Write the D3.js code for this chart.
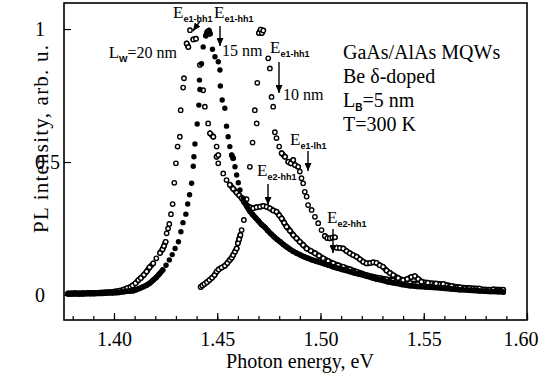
<!DOCTYPE html>
<html>
<head>
<meta charset="utf-8">
<script src="https://cdn.jsdelivr.net/npm/d3@7"></script>
<style>
  body { margin: 0; background: #fff; }
  text { font-family: "Liberation Serif", "Times New Roman", serif; fill: #000; }
</style>
</head>
<body>
<div id="chart"></div>
<script>
// PL spectra: [photon energy (eV), intensity (arb. u.)]
const w20 = [
  [1.3778,0.006],[1.3795,0.006],[1.3812,0.007],[1.3830,0.006],[1.3848,0.007],[1.3866,0.007],[1.3884,0.008],
  [1.3902,0.007],[1.3920,0.008],[1.3938,0.009],[1.3956,0.010],[1.3974,0.011],[1.3992,0.012],[1.4010,0.014],
  [1.4028,0.016],[1.4046,0.020],[1.4064,0.026],[1.4080,0.030],[1.4090,0.036],[1.4104,0.044],[1.4118,0.056],
  [1.4130,0.064],[1.4145,0.076],[1.4158,0.088],[1.4172,0.104],[1.4190,0.119],[1.4205,0.138],[1.4223,0.158],
  [1.4235,0.172],[1.4242,0.184],[1.4250,0.200],[1.4255,0.232],[1.4262,0.250],[1.4268,0.267],[1.4276,0.304],
  [1.4284,0.342],[1.4292,0.422],[1.4300,0.495],[1.4308,0.558],[1.4319,0.595],[1.4323,0.695],[1.4335,0.780],
  [1.4339,0.815],[1.4352,0.946],[1.4360,0.933],[1.4368,0.996],[1.4384,0.961],[1.4397,0.964],[1.4416,0.865],
  [1.4432,0.770],[1.4440,0.708],[1.4456,0.645],[1.4465,0.608],[1.4481,0.595],[1.4497,0.558],[1.4497,0.520],
  [1.4505,0.526],[1.4505,0.495],[1.4529,0.457],[1.4545,0.432],[1.4561,0.415],[1.4577,0.400],[1.4594,0.385],
  [1.4606,0.375],[1.4618,0.365],[1.4630,0.350],[1.4642,0.338],[1.4658,0.330],[1.4674,0.326],[1.4690,0.330],
  [1.4707,0.332],[1.4723,0.335],[1.4739,0.332],[1.4755,0.326],[1.4771,0.318],[1.4787,0.313],[1.4800,0.300],
  [1.4812,0.288],[1.4824,0.272],[1.4836,0.257],[1.4852,0.242],[1.4868,0.226],[1.4884,0.213],[1.4900,0.200],
  [1.4916,0.188],[1.4933,0.175],[1.4953,0.166],[1.4973,0.157],[1.4993,0.148],[1.5013,0.138],[1.5037,0.128],
  [1.5061,0.119],[1.5085,0.112],[1.5110,0.106],[1.5142,0.097],[1.5175,0.088],[1.5200,0.081],[1.5223,0.075],
  [1.5255,0.069],[1.5287,0.064],[1.5320,0.059],[1.5350,0.055],[1.5390,0.050],[1.5433,0.045],[1.5470,0.041],
  [1.5510,0.038],[1.5550,0.036],[1.5592,0.034],[1.5634,0.030],[1.5674,0.028],[1.5720,0.025],[1.5770,0.022],
  [1.5820,0.020],[1.5860,0.018],[1.5885,0.017]
];

const w15 = [
  [1.3778,0.004],[1.3795,0.004],[1.3812,0.005],[1.3830,0.004],[1.3848,0.004],[1.3866,0.005],[1.3884,0.005],
  [1.3902,0.005],[1.3920,0.006],[1.3938,0.006],[1.3956,0.007],[1.3974,0.008],[1.3992,0.008],[1.4010,0.009],
  [1.4028,0.010],[1.4046,0.012],[1.4064,0.014],[1.4080,0.015],[1.4093,0.016],[1.4108,0.020],[1.4124,0.025],
  [1.4142,0.031],[1.4158,0.037],[1.4174,0.045],[1.4190,0.056],[1.4205,0.066],[1.4220,0.079],[1.4236,0.094],
  [1.4252,0.112],[1.4268,0.132],[1.4282,0.152],[1.4296,0.175],[1.4312,0.200],[1.4324,0.238],[1.4334,0.272],
  [1.4348,0.304],[1.4357,0.342],[1.4366,0.377],[1.4376,0.420],[1.4384,0.484],[1.4387,0.520],[1.4392,0.568],
  [1.4403,0.643],[1.4411,0.714],[1.4416,0.773],[1.4414,0.808],[1.4424,0.870],[1.4432,0.933],[1.4445,0.975],
  [1.4452,0.990],[1.4460,0.995],[1.4465,0.982],[1.4477,0.924],[1.4489,0.896],[1.4505,0.877],[1.4513,0.846],
  [1.4515,0.786],[1.4524,0.733],[1.4537,0.702],[1.4545,0.635],[1.4553,0.595],[1.4561,0.558],[1.4570,0.526],
  [1.4577,0.514],[1.4586,0.482],[1.4594,0.451],[1.4602,0.422],[1.4610,0.395],[1.4626,0.363],[1.4636,0.345],
  [1.4646,0.330],[1.4658,0.315],[1.4672,0.302],[1.4686,0.290],[1.4700,0.278],[1.4715,0.265],[1.4730,0.255],
  [1.4745,0.242],[1.4760,0.230],[1.4775,0.219],[1.4790,0.209],[1.4805,0.200],[1.4820,0.190],[1.4836,0.181],
  [1.4852,0.172],[1.4868,0.164],[1.4885,0.157],[1.4903,0.150],[1.4920,0.144],[1.4940,0.138],[1.4960,0.132],
  [1.4980,0.127],[1.5000,0.122],[1.5020,0.117],[1.5040,0.112],[1.5061,0.106],[1.5082,0.101],[1.5105,0.096],
  [1.5125,0.092],[1.5142,0.088],[1.5165,0.083],[1.5190,0.078],[1.5223,0.071],[1.5250,0.065],[1.5271,0.060],
  [1.5300,0.055],[1.5325,0.050],[1.5352,0.046],[1.5390,0.040],[1.5433,0.035],[1.5470,0.032],[1.5510,0.030],
  [1.5550,0.028],[1.5592,0.026],[1.5634,0.023],[1.5674,0.020],[1.5720,0.018],[1.5771,0.015],[1.5820,0.013],
  [1.5860,0.012],[1.5885,0.011]
];

const w10 = [
  [1.4420,0.030],[1.4428,0.036],[1.4438,0.041],[1.4450,0.048],[1.4462,0.056],[1.4475,0.065],[1.4487,0.075],
  [1.4497,0.088],[1.4507,0.096],[1.4521,0.103],[1.4537,0.110],[1.4549,0.120],[1.4561,0.132],[1.4570,0.140],
  [1.4577,0.150],[1.4586,0.163],[1.4594,0.175],[1.4600,0.195],[1.4606,0.210],[1.4612,0.226],[1.4618,0.244],
  [1.4629,0.282],[1.4642,0.360],[1.4658,0.482],[1.4671,0.573],[1.4682,0.695],[1.4691,0.645],[1.4694,0.798],
  [1.4702,0.985],[1.4710,0.998],[1.4716,0.985],[1.4723,0.995],[1.4747,0.890],[1.4755,0.852],[1.4763,0.745],
  [1.4771,0.708],[1.4779,0.612],[1.4787,0.590],[1.4800,0.558],[1.4812,0.533],[1.4828,0.520],[1.4844,0.501],
  [1.4856,0.495],[1.4868,0.508],[1.4876,0.489],[1.4892,0.482],[1.4900,0.464],[1.4908,0.439],[1.4916,0.420],
  [1.4924,0.388],[1.4933,0.370],[1.4940,0.338],[1.4957,0.320],[1.4973,0.294],[1.4989,0.270],[1.5005,0.244],
  [1.5021,0.222],[1.5033,0.214],[1.5045,0.213],[1.5058,0.216],[1.5070,0.217],[1.5078,0.178],[1.5094,0.177],
  [1.5110,0.175],[1.5126,0.165],[1.5142,0.157],[1.5158,0.150],[1.5175,0.144],[1.5191,0.134],[1.5207,0.125],
  [1.5223,0.119],[1.5240,0.120],[1.5255,0.123],[1.5271,0.121],[1.5287,0.112],[1.5303,0.106],[1.5320,0.092],
  [1.5336,0.083],[1.5352,0.075],[1.5376,0.064],[1.5400,0.056],[1.5420,0.060],[1.5440,0.068],[1.5457,0.071],
  [1.5473,0.060],[1.5489,0.050],[1.5520,0.046],[1.5560,0.043],[1.5594,0.041],[1.5635,0.034],[1.5675,0.029],
  [1.5720,0.026],[1.5770,0.024],[1.5836,0.021],[1.5885,0.020]
];

const xTicks = [1.40, 1.45, 1.50, 1.55, 1.60];
const xMinor = d3.range(1.38, 1.6001, 0.01);
const yTicks = [0, 0.5, 1];
const yTickLabels = ["0", "0.5", "1"];

const W = 539, H = 380;
const mLeft = 64, mRight = 527, mTop = 3, mBottom = 320;

const svg = d3.select("#chart").append("svg")
  .attr("width", W).attr("height", H);

const x = d3.scaleLinear().domain([1.3758, 1.60]).range([mLeft, mRight]);
const y = d3.scaleLinear().domain([-0.094, 1.098]).range([mBottom, mTop]);

// arrow head
svg.append("defs").append("marker")
  .attr("id", "arr")
  .attr("markerUnits", "userSpaceOnUse")
  .attr("markerWidth", 8).attr("markerHeight", 7)
  .attr("refX", 8).attr("refY", 3.5)
  .attr("orient", "auto")
  .append("path").attr("d", "M0,0 L8,3.5 L0,7 Z").attr("fill", "#000");

// bottom axis, minor + major ticks pointing inward
const gx = svg.append("g").attr("transform", "translate(0," + mBottom + ")");
gx.call(d3.axisBottom(x).tickValues(xMinor).tickSize(-4).tickFormat(""));
gx.append("g").call(d3.axisBottom(x).tickValues(xTicks).tickSize(-7).tickPadding(12)
  .tickFormat(d3.format(".2f")));
gx.selectAll(".domain").remove();
gx.selectAll("line").attr("stroke", "#000").attr("stroke-width", 1.2);
gx.selectAll("text")
  .attr("font-family", "Liberation Serif, Times New Roman, serif")
  .attr("font-size", 20).attr("fill", "#000");
// last label sits against the right edge of the picture
gx.selectAll("text").filter(d => d === 1.60)
  .attr("text-anchor", "end").attr("x", 538 - mRight);

// left axis
const gy = svg.append("g").attr("transform", "translate(" + mLeft + ",0)");
gy.call(d3.axisLeft(y).tickValues(yTicks).tickSize(-7)
  .tickFormat((d, i) => yTickLabels[i]));
gy.selectAll(".domain").remove();
gy.selectAll("line").attr("stroke", "#000").attr("stroke-width", 1.2);
gy.selectAll("text")
  .attr("font-family", "Liberation Serif, Times New Roman, serif")
  .attr("font-size", 20).attr("fill", "#000")
  .attr("text-anchor", "start").attr("x", 35 - mLeft);

// frame
svg.append("rect")
  .attr("x", mLeft).attr("y", mTop)
  .attr("width", mRight - mLeft).attr("height", mBottom - mTop)
  .attr("fill", "none").attr("stroke", "#000").attr("stroke-width", 1.6);

// axis titles
svg.append("text")
  .attr("x", 300).attr("y", 368)
  .attr("text-anchor", "middle").attr("font-size", 20)
  .text("Photon energy, eV");

svg.append("text")
  .attr("transform", "translate(48,139) rotate(-90)")
  .attr("text-anchor", "middle").attr("font-size", 21)
  .attr("textLength", 188).attr("lengthAdjust", "spacing")
  .text("PL intensity, arb. u.");

// dense stretches of points drawn as a continuous band under the markers
function bands(data, open) {
  const segs = [];
  let cur = [data[0]];
  for (let i = 1; i < data.length; i++) {
    const a = data[i - 1], b = data[i];
    const dx = Math.abs(x(b[0]) - x(a[0])), dy = Math.abs(y(b[1]) - y(a[1]));
    if (dx < 11 && dy < 4.5) cur.push(b);
    else { if (cur.length > 1) segs.push(cur); cur = [b]; }
  }
  if (cur.length > 1) segs.push(cur);
  const line = d3.line().x(d => x(d[0])).y(d => y(d[1]));
  const g = svg.append("g");
  segs.forEach(s => {
    g.append("path").attr("d", line(s)).attr("fill", "none")
      .attr("stroke", "#000").attr("stroke-width", 5.6)
      .attr("stroke-linejoin", "round").attr("stroke-linecap", "round");
    if (open) {
      g.append("path").attr("d", line(s)).attr("fill", "none")
        .attr("stroke", "#fff").attr("stroke-width", 1.6)
        .attr("stroke-dasharray", "2.2 1.6");
    }
  });
}

function markers(data, open) {
  svg.append("g").selectAll("circle").data(data).enter().append("circle")
    .attr("cx", d => x(d[0])).attr("cy", d => y(d[1]))
    .attr("r", open ? 2.2 : 2.7)
    .attr("fill", open ? "#fff" : "#000")
    .attr("stroke", "#000").attr("stroke-width", open ? 1.4 : 0);
}

bands(w20, true);
bands(w10, true);
markers(w20, true);
markers(w10, true);
bands(w15, false);
markers(w15, false);

// labels with subscripts
function rich(px, py, parts, anchor) {
  const t = svg.append("text").attr("x", px).attr("y", py)
    .attr("text-anchor", anchor || "start");
  let shift = 0;
  parts.forEach(p => {
    const s = t.append("tspan").text(p.t);
    if (p.sub) {
      s.attr("font-family", "Liberation Sans, Arial, sans-serif")
        .attr("font-weight", "bold").attr("font-size", p.size || 9)
        .attr("dy", 4 - shift);
      shift = 4;
    } else {
      s.attr("font-size", p.size || 17).attr("dy", -shift);
      shift = 0;
    }
  });
}

function arrow(x1, y1, x2, y2) {
  svg.append("line")
    .attr("x1", x1).attr("y1", y1).attr("x2", x2).attr("y2", y2)
    .attr("stroke", "#000").attr("stroke-width", 1.4)
    .attr("marker-end", "url(#arr)");
}

rich(173, 18, [{ t: "E" }, { t: "e1-hh1", sub: true }]);
rich(214, 18, [{ t: "E" }, { t: "e1-hh1", sub: true }]);
arrow(200, 21, 193, 31);
arrow(220, 26, 220, 46);
rich(222, 56, [{ t: "15 nm", size: 16 }]);
rich(177, 58, [{ t: "L" }, { t: "W", sub: true }, { t: "=20 nm", size: 16 }], "end");

rich(270, 53, [{ t: "E" }, { t: "e1-hh1", sub: true }]);
arrow(279, 62, 279, 93);
rich(283, 100, [{ t: "10 nm", size: 16 }]);

rich(290, 145, [{ t: "E" }, { t: "e1-lh1", sub: true }]);
arrow(308, 151, 308, 171);

rich(257, 176, [{ t: "E" }, { t: "e2-hh1", sub: true }]);
arrow(268, 184, 268, 205);

rich(327, 223, [{ t: "E" }, { t: "e2-hh1", sub: true }]);
arrow(333, 229, 333, 253);

// sample description
rich(343, 59, [{ t: "GaAs/AlAs MQWs", size: 20 }]);
rich(343, 83, [{ t: "Be δ-doped", size: 20 }]);
rich(343, 107, [{ t: "L", size: 20 }, { t: "B", sub: true, size: 10 }, { t: "=5 nm", size: 20 }]);
rich(343, 131, [{ t: "T=300 K", size: 20 }]);
</script>
</body>
</html>
